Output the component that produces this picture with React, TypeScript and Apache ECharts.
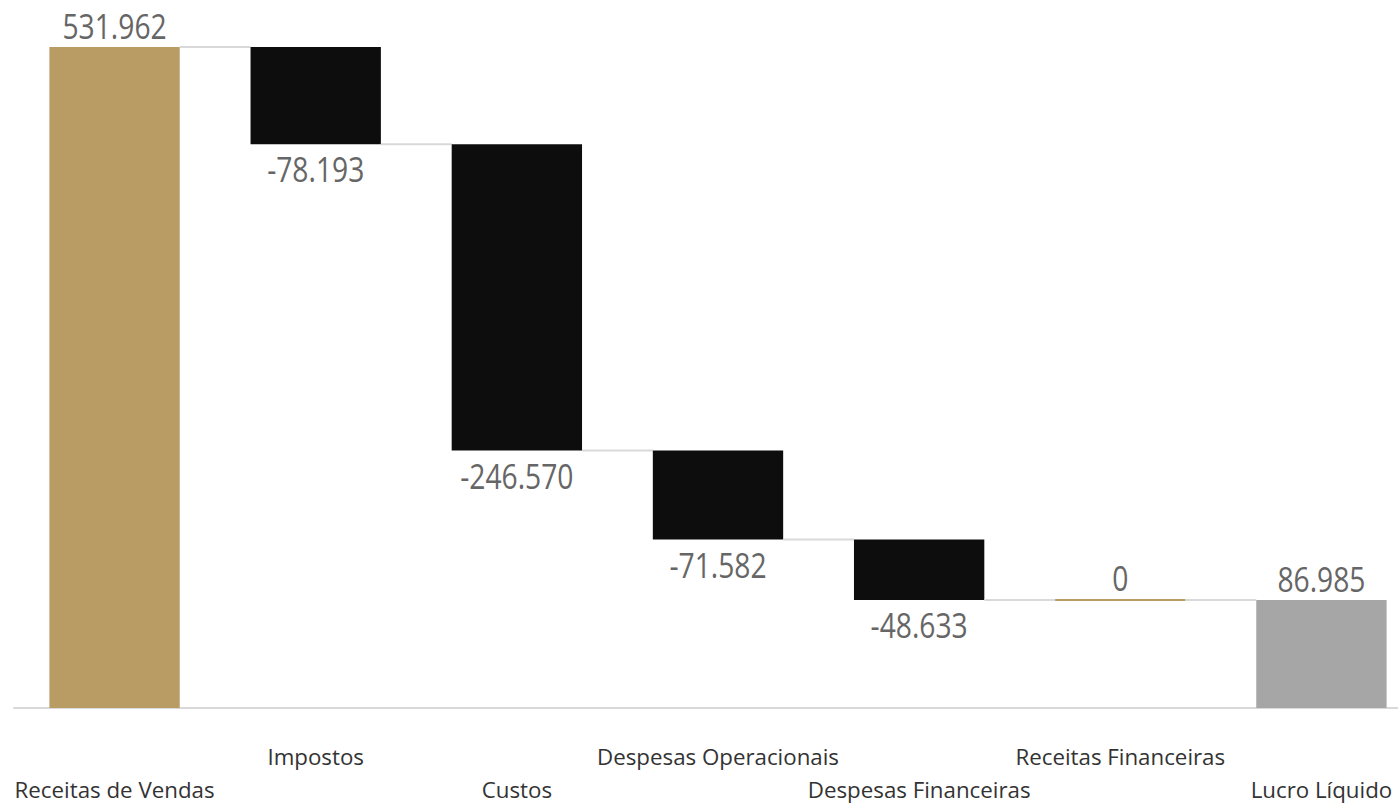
import React, { useEffect, useRef } from "react";
import * as echarts from "echarts";

const categories = [
  "Receitas de Vendas",
  "Impostos",
  "Custos",
  "Despesas Operacionais",
  "Despesas Financeiras",
  "Receitas Financeiras",
  "Lucro Líquido",
];
const values = [531962, -78193, -246570, -71582, -48633, 0, 86985];
const isTotal = [false, false, false, false, false, false, true];

const colorIncrease = "#B89C64";
const colorDecrease = "#0D0D0D";
const colorTotal = "#A6A6A6";

function fmt(v: number): string {
  const s = Math.abs(Math.round(v)).toString().replace(/\B(?=(\d{3})+(?!\d))/g, ".");
  return (v < 0 ? "-" : "") + s;
}

export default function App() {
  const ref = useRef<HTMLDivElement>(null);
  useEffect(() => {
    if (!ref.current) return;
    const chart = echarts.init(ref.current, undefined, { renderer: "svg" });

    let running = 0;
    const items = values.map((v, i) => {
      let start: number, end: number;
      if (isTotal[i]) {
        start = 0;
        end = v;
        running = v;
      } else {
        start = running;
        end = running + v;
        running = end;
      }
      return [i, start, end, v];
    });

    const option: any = {
      animation: false,
      grid: { left: 14, top: 47, width: 1408, bottom: 98, outerBoundsMode: "none", containLabel: false },
      xAxis: {
        type: "category",
        data: categories,
        axisLine: { lineStyle: { color: "#D9D9D9", width: 2 } },
        axisTick: { show: false },
        axisLabel: {
          interval: 0,
          margin: 32,
          color: "#333333",
          fontFamily: "Open Sans",
          fontSize: 22.3,
          lineHeight: 33,
          formatter: (val: string, idx: number) => (idx % 2 === 0 ? "\n" + val : val),
        },
      },
      yAxis: {
        type: "value",
        min: 0,
        max: 531962,
        show: false,
        splitLine: { show: false },
      },
      series: [
        {
          type: "custom",
          data: items,
          encode: { x: 0, y: [1, 2] },
          clip: false,
          renderItem: (params: any, api: any) => {
            const i = api.value(0);
            const start = api.value(1);
            const end = api.value(2);
            const v = api.value(3);
            const p0 = api.coord([i, start]);
            const p1 = api.coord([i, end]);
            const catW = api.size([1, 0])[0];
            const bw = catW * 0.648;
            const cx = p0[0];
            let top = Math.min(p0[1], p1[1]);
            let h = Math.abs(p1[1] - p0[1]);
            if (h < 2) {
              top = p1[1] - 1;
              h = 2;
            }
            const bottom = top + h;
            const color = isTotal[i] ? colorTotal : v < 0 ? colorDecrease : colorIncrease;
            const children: any[] = [
              {
                type: "rect",
                shape: { x: cx - bw / 2, y: top, width: bw, height: h },
                style: { fill: color },
              },
            ];
            if (i < values.length - 1) {
              const nx = api.coord([i + 1, end])[0];
              children.push({
                type: "line",
                shape: { x1: cx + bw / 2, y1: p1[1], x2: nx - bw / 2, y2: p1[1] },
                style: { stroke: "#D9D9D9", lineWidth: 2 },
              });
            }
            children.push({
              type: "text",
              x: cx,
              y: v < 0 ? bottom + 25 : top - 21,
              scaleX: 0.83,
              style: {
                text: fmt(v),
                fill: "#666666",
                fontSize: 34,
                fontFamily: "Open Sans",
                align: "center",
                verticalAlign: "middle",
              },
            });
            return { type: "group", children };
          },
        },
      ],
    };
    chart.setOption(option);
    return () => chart.dispose();
  }, []);
  return (
    <div
      ref={ref}
      style={{ position: "absolute", left: 0, top: 0, width: 1398, height: 806 }}
    />
  );
}
